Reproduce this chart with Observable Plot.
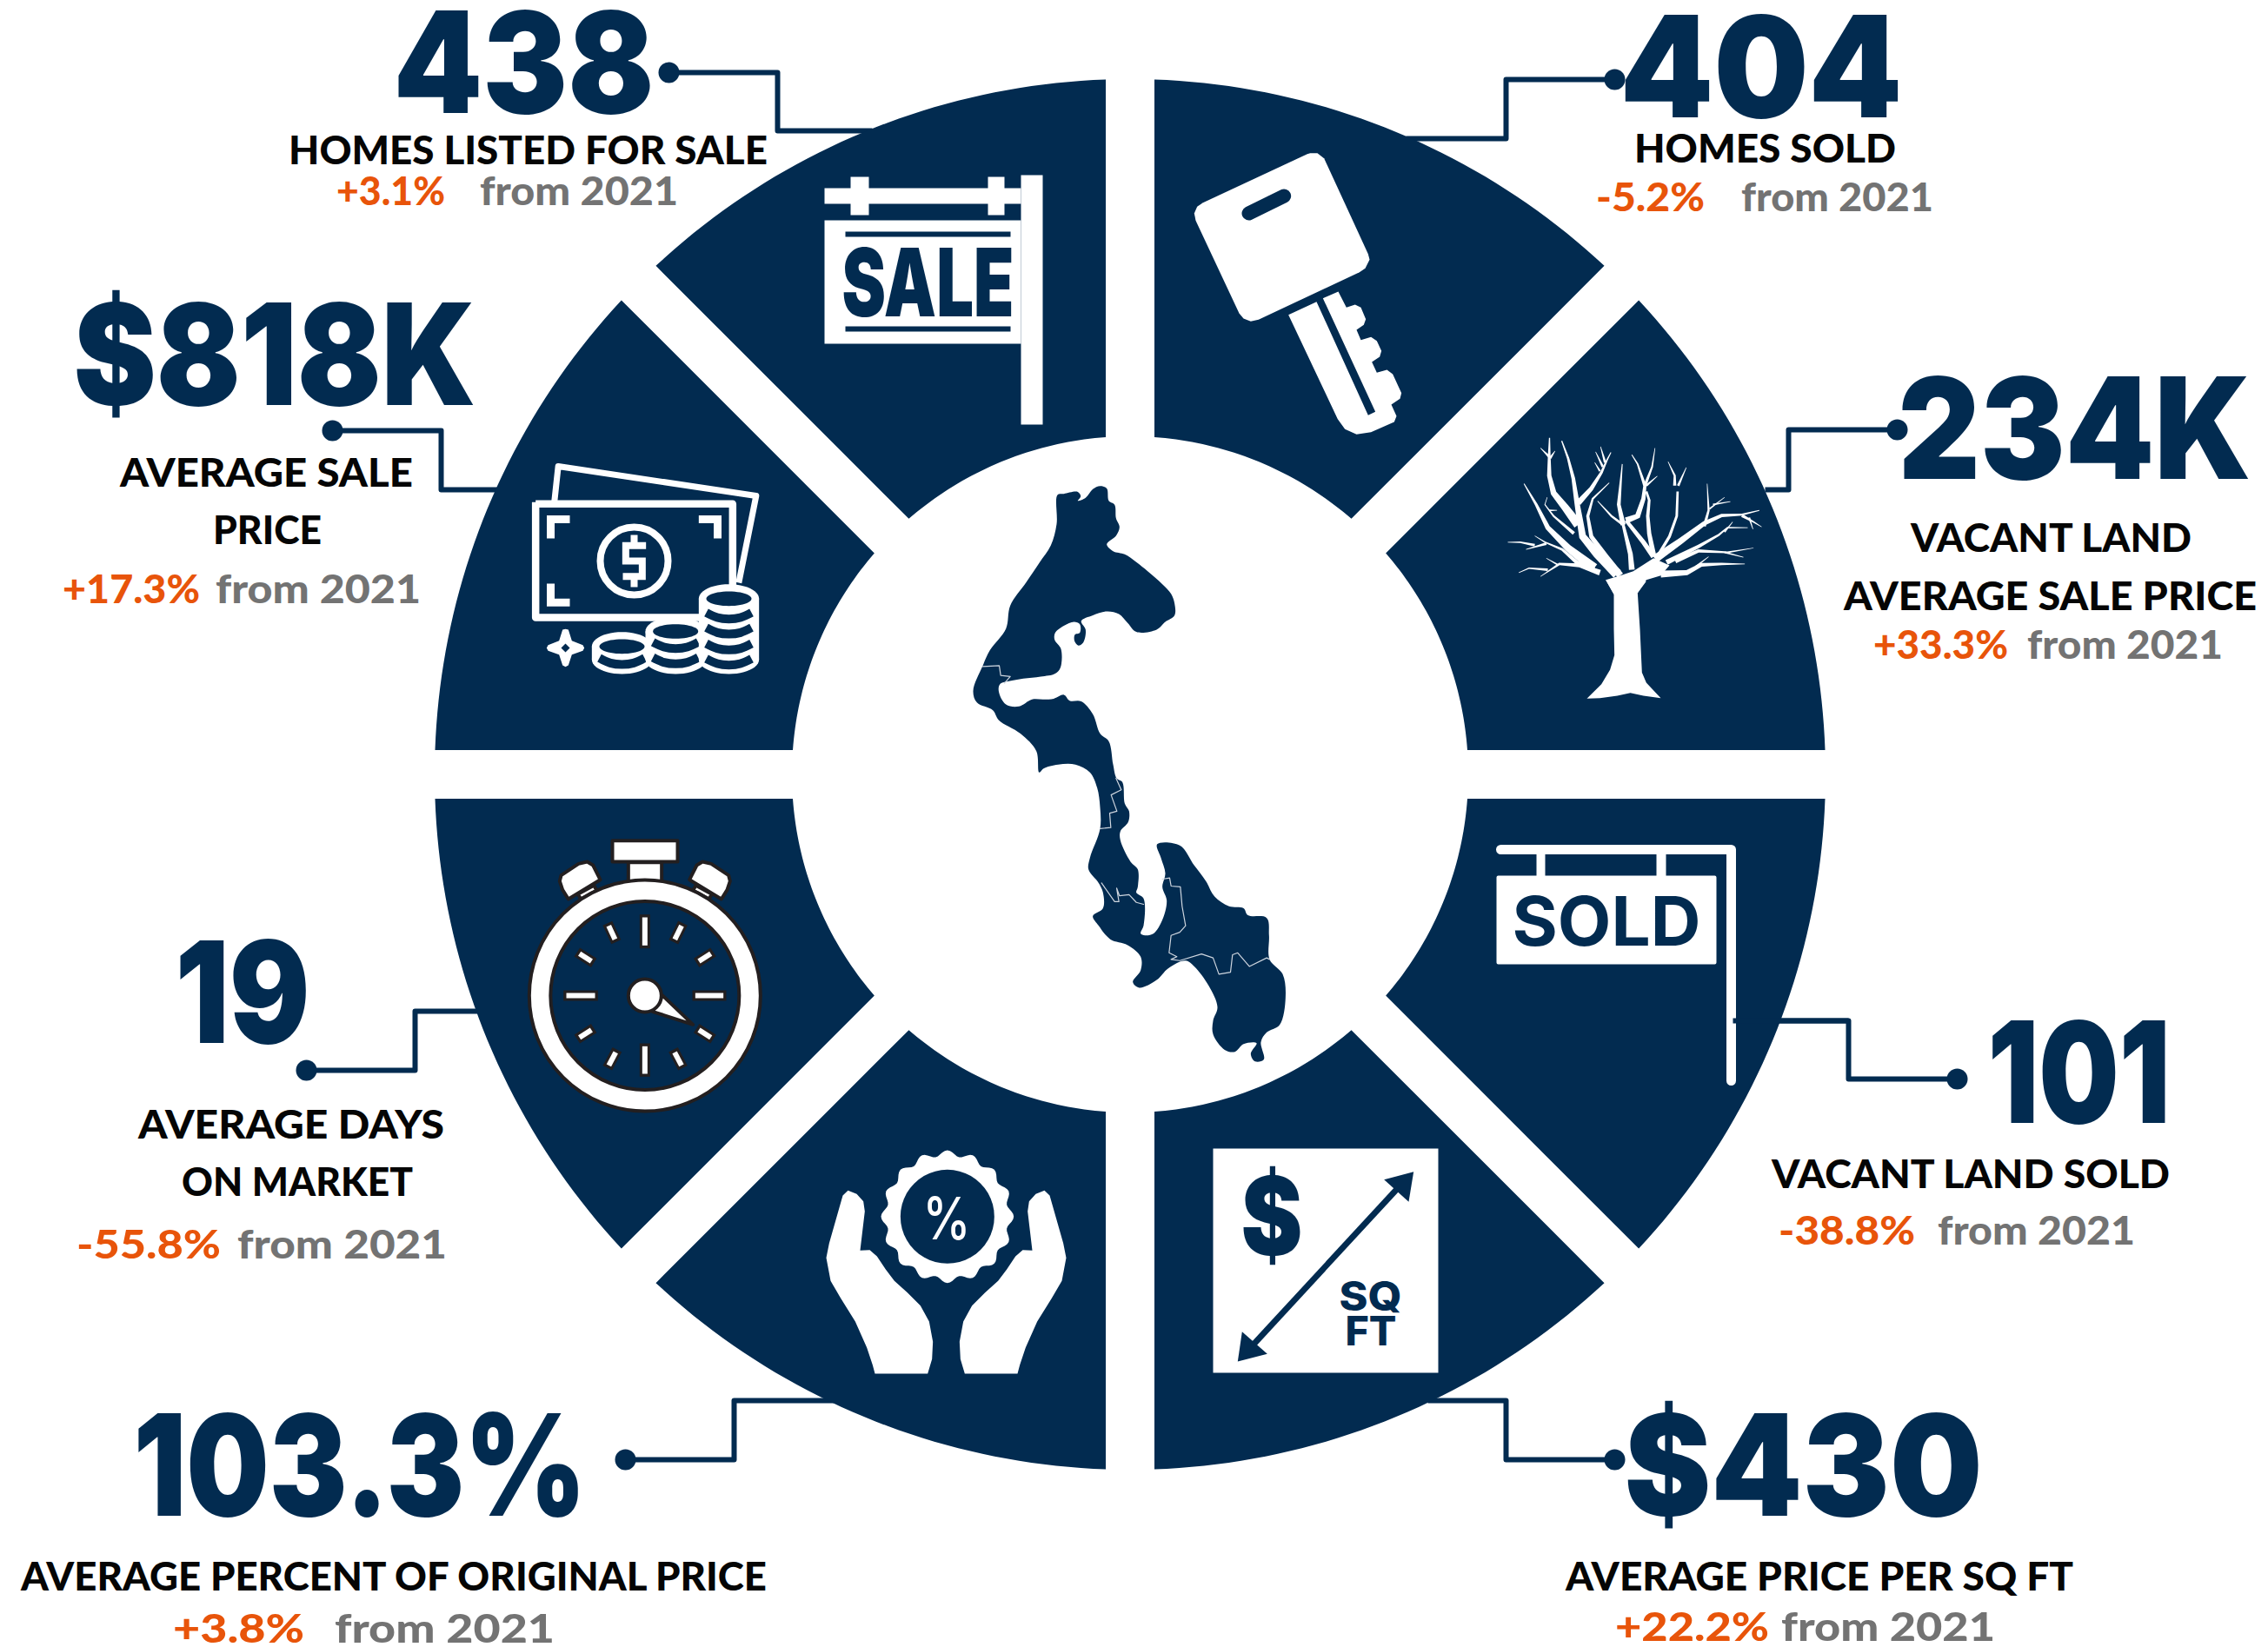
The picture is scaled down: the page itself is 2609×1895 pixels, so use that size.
<!DOCTYPE html>
<html>
<head>
<meta charset="utf-8">
<script src="https://cdn.jsdelivr.net/npm/d3@7"></script>
<script src="https://cdn.jsdelivr.net/npm/@observablehq/plot@0.6"></script>
<style>html,body{margin:0;padding:0;background:#fff}svg{display:block}</style>
</head>
<body>
<div id="chart"></div>
<script>
// ---------- chart content (clockwise from 12 o'clock) ----------
const metricNames = ["Homes sold","Vacant land price","Vacant land sold","Price per sq ft","Percent of original price","Days on market","Average sale price","Homes listed"];
const sliceShares = [1,1,1,1,1,1,1,1];
const metricValues = ["404","234K","101","$430","103.3%","19","$818K","438"];
const metricLabels = [
  ["HOMES SOLD"],
  ["VACANT LAND","AVERAGE SALE PRICE"],
  ["VACANT LAND SOLD"],
  ["AVERAGE PRICE PER SQ FT"],
  ["AVERAGE PERCENT OF ORIGINAL PRICE"],
  ["AVERAGE DAYS","ON MARKET"],
  ["AVERAGE SALE","PRICE"],
  ["HOMES LISTED FOR SALE"]
];
const metricChanges = ["-5.2%","+33.3%","-38.8%","+22.2%","+3.8%","-55.8%","+17.3%","+3.1%"];
const comparison = "from 2021";

// ---------- layout ----------
const W = 2609, H = 1895, NAVY = "#022b50", ORANGE = "#e8540a", GREY = "#737373", INK = "#050505", WHITE = "#ffffff", DARK = "#231f20";
const cx = 1299.5, cy = 890.5, rOuter = 800, rInner = 389, halfGap = 28;
// left, baseline, width
const valueBoxes = [[1869,134,313],[2189,550,394],[2292,1291,198],[1874,1743,400],[159,1743,509],[207,1199,143],[90,465,451],[458,129,288]];
const labelBoxes = [
  [[1881,186,298]],
  [[2199,634,320],[2122,701,472]],
  [[2039,1366,455]],
  [[1802,1829,581]],
  [[25,1829,855]],
  [[160,1309,349],[210,1375,263]],
  [[139,559,334],[246,625,122]],
  [[333,188,548]]
];
const changeBoxes = [[1837,242,122],[2156,757,152],[2047,1431,154],[1859,1887,174],[200,1889,148],[89,1447,163],[73,693,155],[388,235,122]];
const compareBoxes = [[2004,242,218],[2333,757,222],[2230,1431,224],[2050,1887,243],[386,1889,250],[274,1447,238],[249,693,233],[553,235,225]];
const connectors = [
  [[1857,91],[1732,91],[1732,159],[1617,159]],
  [[2182,494],[2057,494],[2057,563],[2030,563]],
  [[2251,1241],[2126,1241],[2126,1174],[1993,1174]],
  [[1857,1679],[1732,1679],[1732,1611],[1642,1611]],
  [[719,1679],[844,1679],[844,1611],[962,1611]],
  [[352,1231],[477,1231],[477,1163],[551,1163]],
  [[382,495],[507,495],[507,563],[572,563]],
  [[769,83],[894,83],[894,150],[1003,150]]
];

// ---------- helpers ----------
const X = d => d[0], Y = d => d[1];
const at = (ox, oy, k = 3) => ([x, y]) => [ox + x / k, oy + y / k];
const poly = (pts, fill = WHITE, o = {}) => Plot.line(pts, {x: X, y: Y, fill, stroke: "none", ...o});
const outlined = (pts, fill, stroke, sw) => Plot.line([...pts, pts[0]], {x: X, y: Y, fill, stroke, strokeWidth: sw, strokeLinejoin: "round"});
const rule = (pts, stroke, w, o = {}) => Plot.line(pts, {x: X, y: Y, stroke, strokeWidth: w, strokeLinecap: "butt", strokeLinejoin: "miter", strokeMiterlimit: 4, ...o});
const box = (x1, y1, x2, y2) => [[x1,y1],[x2,y1],[x2,y2],[x1,y2]];
const dot = (x, y, r, fill, o = {}) => Plot.dot([[x, y]], {x: X, y: Y, r, fill, stroke: "none", ...o});
const ell = (x, y, rx, ry) => d3.range(48).map(i => [x + rx * Math.cos(i / 48 * 2 * Math.PI), y + ry * Math.sin(i / 48 * 2 * Math.PI)]);
function textRows(rows, style) {
  return Plot.text(rows, {
    x: d => d.x, y: d => d.y, text: d => d.text, textAnchor: "start", lineAnchor: "bottom", ...style,
    render(index, scales, values, dims, ctx, next) {
      const g = next(index, scales, values, dims, ctx);
      d3.select(g).selectAll("text").each(function (i) {
        this.setAttribute("textLength", rows[i].w);
        this.setAttribute("lengthAdjust", "spacingAndGlyphs");
      });
      return g;
    }
  });
}
const row = (text, [x, y, w], pad = 0) => ({text, x: x - pad, y, w: w + 2 * pad});
function taper(pts, w0, w1, map) {
  const L = [0];
  for (let i = 1; i < pts.length; i++) L[i] = L[i-1] + Math.hypot(pts[i][0]-pts[i-1][0], pts[i][1]-pts[i-1][1]);
  const total = L[L.length-1], left = [], right = [];
  pts.forEach((p, i) => {
    const a = pts[Math.max(i-1,0)], b = pts[Math.min(i+1,pts.length-1)];
    const dx = b[0]-a[0], dy = b[1]-a[1], n = Math.hypot(dx,dy) || 1;
    const w = (w0 + (w1-w0) * L[i]/total) / 2;
    left.push(map([p[0]-dy/n*w, p[1]+dx/n*w]));
    right.unshift(map([p[0]+dy/n*w, p[1]-dx/n*w]));
  });
  return poly([...left, ...right], WHITE);
}

// ---------- wedges ----------
const arcs = d3.pie().sort(null)(sliceShares);
const wedgeRows = arcs.flatMap((a, i) => {
  const pt = (r, t) => [cx + r * Math.sin(t), cy - r * Math.cos(t)];
  const o = Math.asin(halfGap / rOuter), n = Math.asin(halfGap / rInner);
  const out = d3.range(41).map(k => pt(rOuter, a.startAngle + o + (a.endAngle - a.startAngle - 2*o) * k / 40));
  const inn = d3.range(41).map(k => pt(rInner, a.endAngle - n - (a.endAngle - a.startAngle - 2*n) * k / 40));
  return [...out, ...inn].map(p => ({slice: metricNames[i], x: p[0], y: p[1]}));
});

// ---------- map ----------
const mapAt = ([x, y]) => [1080 + x / 3, 540 + y / 2.24];
const mapOutline = [[408,65],[430,62],[478,57],[488,68],[478,80],[505,72],[530,50],[555,42],[578,48],[585,80],[605,90],[610,125],[622,148],[610,170],[578,192],[600,210],[640,218],[680,238],[720,262],[770,295],[800,320],[812,345],[812,375],[780,392],[750,412],[680,418],[650,395],[620,372],[580,365],[530,375],[490,390],[505,412],[497,445],[480,453],[467,442],[468,425],[485,420],[485,398],[465,392],[430,402],[400,420],[398,438],[420,462],[418,510],[400,525],[350,533],[290,538],[240,545],[210,552],[205,570],[230,605],[275,610],[320,592],[360,592],[395,590],[430,580],[450,595],[490,597],[530,630],[555,680],[585,700],[600,760],[612,795],[632,805],[640,860],[655,880],[652,908],[625,932],[625,955],[660,1010],[685,1030],[685,1075],[680,1090],[705,1105],[705,1175],[695,1195],[710,1200],[740,1195],[770,1160],[785,1110],[770,1075],[780,1040],[765,1000],[752,965],[830,968],[880,1020],[920,1060],[950,1100],[1000,1125],[1050,1130],[1065,1148],[1130,1155],[1138,1200],[1140,1262],[1185,1300],[1195,1360],[1175,1430],[1130,1450],[1110,1475],[1120,1520],[1090,1525],[1075,1505],[1095,1478],[1050,1480],[1020,1500],[985,1495],[945,1455],[945,1420],[960,1385],[930,1330],[880,1280],[850,1265],[790,1285],[750,1315],[690,1335],[668,1320],[695,1290],[695,1255],[650,1225],[590,1210],[550,1175],[530,1150],[565,1130],[565,1090],[550,1065],[515,1030],[520,1000],[555,925],[555,870],[545,820],[520,780],[470,760],[410,760],[360,770],[345,780],[335,725],[280,680],[205,645],[185,620],[130,600],[117,570],[150,505],[175,465],[230,410],[245,350],[300,290],[345,240],[385,195],[405,140]].map(mapAt);
const mapBorders = [
  [[150,507],[207,505],[212,530],[245,533],[225,550]],
  [[610,795],[628,825],[593,838],[613,880],[588,885],[592,922],[555,925]],
  [[560,1065],[605,1113],[620,1113],[612,1078],[622,1098],[655,1095],[680,1115],[705,1120]],
  [[770,1055],[795,1052],[800,1073],[832,1075],[838,1125],[850,1175],[830,1192],[800,1200],[793,1245],[820,1255],[800,1262],[830,1265],[905,1248],[945,1258],[965,1300],[1005,1295],[1012,1250],[1030,1245],[1070,1280],[1130,1258],[1140,1262]]
].map(l => l.map(mapAt));

// ---------- icons ----------
function saleIcon() {
  return [
    poly(box(1174,201,1199,488)), poly(box(948,216,1174,234)),
    poly(box(978,203,999,247)), poly(box(1136,203,1155,247)),
    poly(box(948,253,1174,395)),
    poly(box(972,266,1162,272), NAVY), poly(box(972,375,1162,381), NAVY),
    textRows([{text:"SALE", x:968, y:363, w:198}], {fill:NAVY, fontSize:109, fontWeight:900, fontFamily:"Inter"})
  ];
}
function keyIcon() {
  const m = at(1360,160);
  return [
    poly([[440,47],[465,47],[488,65],[640,395],[645,415],[630,445],[610,458],[262,622],[235,628],[210,618],[195,600],[45,280],[40,255],[50,232],[70,218],[430,50]].map(m)),
    Plot.line([[228,255],[350,195]].map(m), {x:X, y:Y, stroke:NAVY, strokeWidth:16, strokeLinecap:"round"}),
    poly([[365,605],[462,560],[640,952],[665,940],[484,548],[537,525],[565,580],[595,570],[615,580],[632,620],[625,640],[600,657],[615,692],[650,682],[670,695],[686,730],[680,750],[653,768],[670,805],[705,795],[725,810],[755,875],[750,895],[720,915],[738,955],[730,975],[650,1010],[600,1018],[560,1000],[535,965]].map(m))
  ];
}
function treeIcon() {
  const m = at(1720,490);
  const branches = [
    [[[420,510],[350,440],[300,380],[290,320],[280,260],[268,180],[250,110],[228,50]],36,4],
    [[[285,340],[240,280],[200,230],[185,170],[185,100],[186,40]],32,4],
    [[[185,105],[155,75]],9,2],[[[188,110],[205,85]],9,2],
    [[[285,265],[330,215],[365,160],[385,115],[398,90]],20,3],
    [[[370,140],[345,88]],9,2],[[[360,155],[342,125]],7,2],[[[378,125],[362,70]],9,2],
    [[[340,490],[250,420],[180,350],[140,270],[98,198]],34,3],
    [[[270,370],[200,310],[170,270],[178,245]],12,2],[[[185,290],[212,290]],6,2],
    [[[340,495],[280,470],[230,425],[170,400],[135,378]],18,2],
    [[[175,405],[105,425]],9,2],[[[135,410],[85,400],[42,400]],9,2],
    [[[360,505],[290,480],[220,475],[155,518]],20,2],
    [[[215,478],[175,455]],6,2],[[[180,495],[115,490],[80,505]],9,2],
    [[[430,515],[380,450],[330,380],[318,310],[335,250],[392,195]],24,3],
    [[[470,495],[465,440],[440,340],[400,310],[352,258]],20,3],
    [[[440,340],[425,270],[437,130]],18,3],
    [[[545,450],[510,400],[450,325]],18,12],
    [[[450,325],[490,310],[510,250],[515,205],[490,130],[470,98]],22,3],
    [[[515,205],[540,140],[550,75]],11,2],[[[520,205],[558,172]],8,2],
    [[[545,445],[530,370],[525,310],[530,255],[520,225]],18,8],
    [[[555,455],[600,380],[625,310],[628,225]],11,8],
    [[[618,205],[618,170],[595,122]],11,2],[[[630,205],[658,142]],9,2],
    [[[550,458],[640,395],[720,335],[780,308],[850,305],[910,290]],28,3],
    [[[850,308],[890,330],[918,347]],11,2],[[[875,315],[888,355]],7,2],
    [[[720,345],[735,290],[730,198]],11,2],[[[738,285],[790,245]],6,2],[[[750,270],[810,260]],6,2],
    [[[590,470],[700,415],[770,375],[800,350],[870,350]],18,2],[[[790,365],[818,330]],6,2],
    [[[620,465],[700,430],[800,435],[890,420]],16,2],[[[790,435],[855,452]],6,2],
    [[[570,510],[660,505],[710,478],[780,475],[860,475]],24,2],[[[690,485],[735,450]],7,2]
  ];
  return [
    ...branches.map(([p,a,b]) => taper(p,a,b,m)),
    poly([[380,530],[430,515],[475,500],[545,455],[600,480],[570,515],[520,530],[490,575],[408,580]].map(m)),
    poly([[380,530],[408,580],[408,700],[410,790],[395,840],[365,890],[315,940],[360,938],[420,930],[465,920],[510,930],[570,938],[520,885],[505,850],[498,700],[490,575],[520,535]].map(m))
  ];
}
function soldIcon() {
  return [
    Plot.line([[1726,977],[1991,977],[1991,1243]], {x:X, y:Y, stroke:WHITE, strokeWidth:11, strokeLinecap:"round", strokeLinejoin:"round"}),
    poly(box(1767,977,1777,1010)), poly(box(1905,977,1916,1010)),
    outlined(box(1723,1009,1972,1107), WHITE, WHITE, 4),
    textRows([{text:"SOLD", x:1739, y:1087, w:217}], {fill:NAVY, fontSize:78, fontWeight:700, fontFamily:"Inter"})
  ];
}
function sqftIcon() {
  const m = at(1380,1310);
  return [
    poly([[45,33],[822,33],[822,807],[45,807]].map(m)),
    textRows([{text:"$", x:1427, y:1443, w:71}], {fill:NAVY, fontSize:125, fontWeight:900, fontFamily:"Inter"}),
    rule([[165,730],[705,145]].map(m), NAVY, 7),
    poly([[737,113],[635,140],[720,217]].map(m), NAVY),
    poly([[130,768],[232,742],[145,665]].map(m), NAVY),
    textRows([{text:"SQ", x:1540, y:1507, w:72}], {fill:NAVY, fontSize:46, fontWeight:800, fontFamily:"Inter"}),
    textRows([{text:"FT", x:1547, y:1547, w:59}], {fill:NAVY, fontSize:46, fontWeight:800, fontFamily:"Inter"})
  ];
}
function handsIcon() {
  const m = at(940,1310);
  const hand = [[198,810],[380,810],[395,760],[398,700],[385,630],[355,575],[310,530],[265,490],[235,450],[205,405],[180,383],[147,385],[163,250],[158,215],[135,190],[105,178],[87,195],[40,360],[30,410],[45,490],[80,550],[130,630],[170,720],[190,780]];
  const gear = d3.range(160).map(i => {
    const t = i / 160 * 2 * Math.PI, r = 219 + 10 * Math.cos(16 * t);
    return [448 + r * Math.sin(t), 268 - r * Math.cos(t)];
  });
  return [
    poly(hand.map(m)), poly(hand.map(([x,y]) => [888-x,y]).map(m)),
    poly(gear.map(m)), poly(ell(448,268,162,162).map(m), NAVY),
    textRows([{text:"%", x:1061, y:1425, w:55}], {fill:WHITE, fontSize:68, fontWeight:500, fontFamily:"Inter"})
  ];
}
function watchIcon() {
  const m = at(600,960);
  const knob = [[130,160],[135,140],[195,100],[225,93],[245,105],[270,155],[160,222],[140,190]];
  const neck = [[193,205],[248,175],[258,192],[203,222]];
  const mir = pts => pts.map(([x,y]) => [848-x,y]);
  const ticks = [
    [[424,275],[424,392]],[[424,720],[424,835]],[[143,555],[262,555]],[[588,555],[705,555]],
    [[295,305],[325,370]],[[555,305],[523,370]],[[190,405],[248,442]],[[660,405],[602,442]],
    [[190,705],[248,668]],[[660,705],[602,668]],[[295,805],[328,742]],[[555,805],[522,742]]
  ];
  const tick = ([a,b]) => {
    const l = Math.hypot(b[0]-a[0],b[1]-a[1]), ux = (b[0]-a[0])/l*10, uy = (b[1]-a[1])/l*10;
    return [
      rule([a,b].map(m), DARK, 12),
      rule([[a[0]+ux,a[1]+uy],[b[0]-ux,b[1]-uy]].map(m), WHITE, 6)
    ];
  };
  return [
    outlined(box(312,20,537,93).map(m), WHITE, DARK, 4),
    outlined(box(367,95,482,165).map(m), WHITE, DARK, 4),
    outlined(neck.map(m), WHITE, DARK, 4), outlined(mir(neck).map(m), WHITE, DARK, 4),
    outlined(knob.map(m), WHITE, DARK, 4), outlined(mir(knob).map(m), WHITE, DARK, 4),
    dot(...m([424,555]), 133, WHITE, {stroke:DARK, strokeWidth:4}),
    dot(...m([424,555]), 108.5, NAVY, {stroke:DARK, strokeWidth:4}),
    ...ticks.flatMap(tick),
    outlined([[485,555],[590,655],[450,610]].map(m), WHITE, DARK, 4),
    dot(...m([424,555]), 19, WHITE, {stroke:DARK, strokeWidth:4})
  ];
}
function moneyIcon() {
  const m = at(600,520);
  const stack = (c, top, bottom, bands) => [
    poly(ell(c,top,104,50).map(m)), poly(ell(c,bottom,104,50).map(m)),
    poly(box(c-104,top,c+104,bottom).map(m)),
    poly(ell(c,top,78,25).map(m), NAVY),
    ...bands.map(e => Plot.line([[c-78,e],[c-40,e+17],[c,e+22],[c+40,e+17],[c+78,e]].map(m), {x:X, y:Y, stroke:NAVY, strokeWidth:10, strokeLinecap:"butt", curve:"natural"}))
  ];
  const w = {strokeLinejoin:"round", strokeLinecap:"butt"};
  return [
    rule([[112,168],[125,48],[808,150],[748,450]].map(m), WHITE, 7, {strokeLinejoin:"round"}),
    rule([[47,178],[727,178],[727,570],[47,570],[47,172]].map(m), WHITE, 8.5, w),
    rule([[165,231],[99,231],[99,297]].map(m), WHITE, 9), rule([[610,231],[675,231],[675,297]].map(m), WHITE, 9),
    rule([[99,453],[99,518],[165,518]].map(m), WHITE, 9),
    dot(...m([387,375]), 39, "none", {stroke:WHITE, strokeWidth:8}),
    rule([[428,322],[358,322],[358,375],[415,375],[415,428],[348,428]].map(m), WHITE, 8),
    rule([[387,285],[387,322]].map(m), WHITE, 8), rule([[387,428],[387,465]].map(m), WHITE, 8),
    poly([[150,610],[160,612],[172,650],[210,665],[215,675],[210,685],[172,698],[160,735],[150,740],[140,735],[128,698],[90,685],[85,675],[90,665],[128,650],[140,612]].map(m)),
    poly([[150,660],[165,675],[150,690],[135,675]].map(m), NAVY),
    ...stack(345,670,715,[710]),
    ...stack(530,618,715,[655,708]),
    ...stack(714,505,715,[553,605,660,712])
  ];
}

// ---------- text rows ----------
const bigFont = {fill: NAVY, fontSize: 162, fontWeight: 900, fontFamily: "Inter"};
const smallFont = {fontSize: 45, fontWeight: 900, fontFamily: "Lato"};

const chart = Plot.plot({
  width: W, height: H, margin: 0,
  x: {domain: [0, W], range: [0, W], axis: null},
  y: {domain: [0, H], range: [0, H], axis: null},
  style: {background: WHITE},
  marks: [
    ...connectors.map(c => rule(c, NAVY, 6, {strokeLinejoin: "round"})),
    Plot.dot(connectors, {x: d => d[0][0], y: d => d[0][1], r: 12, fill: NAVY, stroke: "none"}),
    Plot.line(wedgeRows, {x: "x", y: "y", z: "slice", fill: NAVY, stroke: "none"}),
    poly(mapOutline, NAVY, {curve: "catmull-rom-closed"}),
    ...mapBorders.map(b => Plot.line(b, {x: X, y: Y, stroke: "#cfd6df", strokeWidth: 1.2})),
    ...saleIcon(), ...keyIcon(), ...treeIcon(), ...soldIcon(), ...sqftIcon(), ...handsIcon(), ...watchIcon(), ...moneyIcon(),
    rule(connectors[2].slice(2), NAVY, 6),
    textRows(metricValues.map((t, i) => row(t, valueBoxes[i], 6)), bigFont),
    textRows(metricLabels.flatMap((ls, i) => ls.map((t, j) => row(t, labelBoxes[i][j], 1.5))), {...smallFont, fill: INK}),
    textRows(metricChanges.map((t, i) => row(t, changeBoxes[i], 1.5)), {...smallFont, fill: ORANGE}),
    textRows(metricChanges.map((t, i) => row(comparison, compareBoxes[i], 1.5)), {...smallFont, fill: GREY})
  ]
});
document.getElementById("chart").append(chart);
</script>
</body>
</html>
